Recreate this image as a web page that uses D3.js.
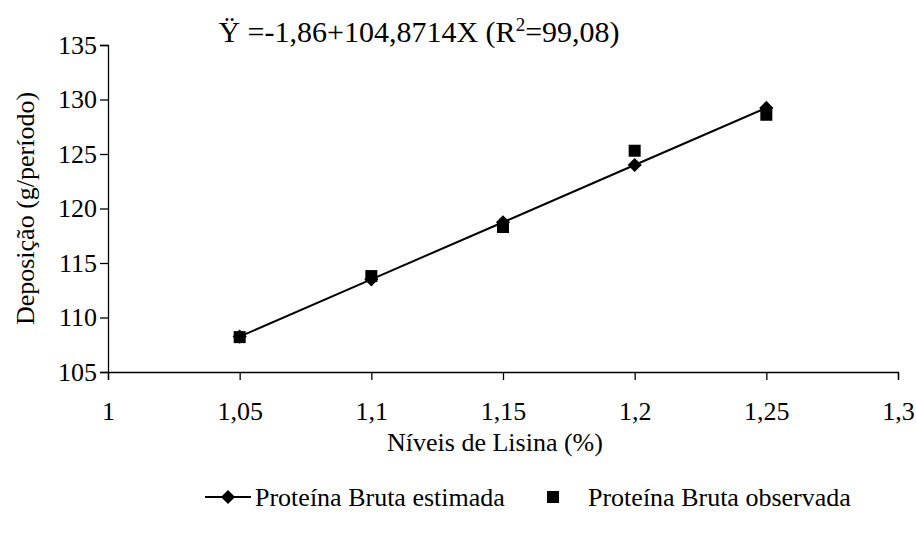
<!DOCTYPE html>
<html>
<head>
<meta charset="utf-8">
<script src="https://cdn.jsdelivr.net/npm/d3@7"></script>
<style>
  body { margin: 0; background: #fff; }
  text { font-family: "Liberation Serif", "Times New Roman", serif; fill: #000; }
</style>
</head>
<body>
<div id="chart"></div>
<script>
// niveis de lisina (%) e deposicao de proteina bruta (g/periodo)
var niveis = [1.05, 1.1, 1.15, 1.2, 1.25];
var estimada = [108.25, 113.50, 118.74, 123.99, 129.23];
var observada = [108.2, 113.8, 118.3, 125.3, 128.6];
var xTicks = [1, 1.05, 1.1, 1.15, 1.2, 1.25, 1.3];
var yTicks = [105, 110, 115, 120, 125, 130, 135];

(function() {
  var margin = { top: 45, left: 108, right: 18, bottom: 165 },
    width = 916 - margin.left - margin.right,
    height = 537 - margin.top - margin.bottom;

  var svg = d3.select("#chart")
    .append("svg")
    .attr("width", 916)
    .attr("height", 537)
    .append("g")
    .attr("transform", "translate(" + margin.left + "," + margin.top + ")");

  var x = d3.scaleLinear().domain([1, 1.3]).range([0, width]);
  var y = d3.scaleLinear().domain([105, 135]).range([height, 0]);

  var fmt = function(d) { return String(d).replace(".", ","); };

  var xAxis = svg.append("g")
    .attr("transform", "translate(0," + height + ")")
    .call(d3.axisBottom(x).tickValues(xTicks).tickFormat(fmt).tickSize(8).tickPadding(22));

  var yAxis = svg.append("g")
    .call(d3.axisLeft(y).tickValues(yTicks).tickSize(8).tickPadding(3));

  [xAxis, yAxis].forEach(function(a) {
    a.attr("font-family", null);
    a.select(".domain").attr("stroke", "#000").attr("stroke-width", 1.3);
    a.selectAll(".tick line").attr("stroke", "#000").attr("stroke-width", 1.3);
    a.selectAll("text").style("font-size", "26px").attr("fill", "#000");
  });

  // titulos
  svg.append("text")
    .attr("transform", "rotate(-90)")
    .attr("x", -height / 2)
    .attr("y", -74)
    .style("text-anchor", "middle")
    .style("font-size", "26px")
    .text("Deposição (g/período)");

  svg.append("text")
    .attr("x", width / 2 - 8)
    .attr("y", height + 79)
    .style("text-anchor", "middle")
    .style("font-size", "26px")
    .text("Níveis de Lisina (%)");

  var eq = svg.append("text")
    .attr("x", 311)
    .attr("y", -3)
    .style("text-anchor", "middle")
    .style("font-size", "30px");
  eq.append("tspan").text("Ÿ =-1,86+104,8714X (R");
  eq.append("tspan").attr("dy", -11).style("font-size", "19px").text("2");
  eq.append("tspan").attr("dy", 11).text("=99,08)");

  var pts = niveis.map(function(n, i) { return { x: n, est: estimada[i], obs: observada[i] }; });

  var line = d3.line()
    .x(function(d) { return x(d.x); })
    .y(function(d) { return y(d.est); });

  svg.append("path")
    .datum(pts)
    .attr("d", line)
    .attr("fill", "none")
    .attr("stroke", "#000")
    .attr("stroke-width", 2);

  var diamond = d3.symbol().type(d3.symbolSquare).size(100);

  svg.selectAll(".obs")
    .data(pts)
    .enter().append("rect")
    .attr("class", "obs")
    .attr("x", function(d) { return x(d.x) - 6; })
    .attr("y", function(d) { return y(d.obs) - 6; })
    .attr("width", 12)
    .attr("height", 12)
    .attr("fill", "#000");

  svg.selectAll(".est")
    .data(pts)
    .enter().append("path")
    .attr("class", "est")
    .attr("d", diamond)
    .attr("transform", function(d) { return "translate(" + x(d.x) + "," + y(d.est) + ") rotate(45)"; })
    .attr("fill", "#000");

  // legenda
  var leg = svg.append("g").attr("transform", "translate(0," + (height + 125) + ")");
  leg.append("line")
    .attr("x1", 97).attr("x2", 143).attr("y1", 0).attr("y2", 0)
    .attr("stroke", "#000").attr("stroke-width", 2);
  leg.append("path")
    .attr("d", diamond)
    .attr("transform", "translate(120,0) rotate(45)")
    .attr("fill", "#000");
  leg.append("text")
    .attr("x", 147).attr("y", 9)
    .style("font-size", "26px")
    .text("Proteína Bruta estimada");
  leg.append("rect")
    .attr("x", 439).attr("y", -6).attr("width", 12).attr("height", 12)
    .attr("fill", "#000");
  leg.append("text")
    .attr("x", 480).attr("y", 9)
    .style("font-size", "26px")
    .text("Proteína Bruta observada");
})();
</script>
</body>
</html>
